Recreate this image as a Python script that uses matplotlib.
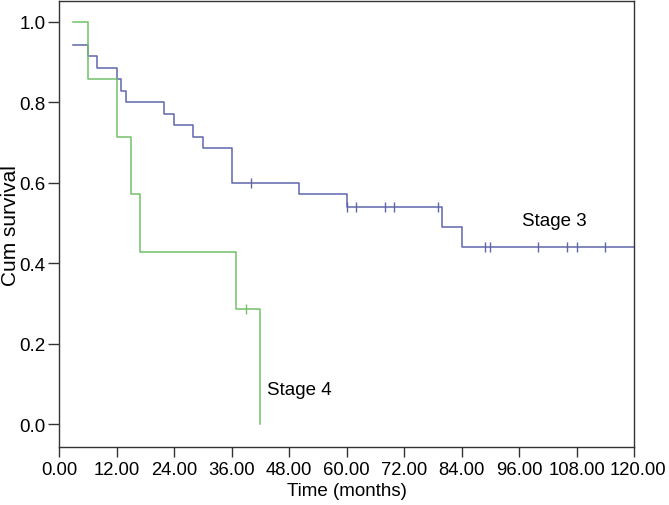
import numpy as np
import matplotlib
matplotlib.use("Agg")
import matplotlib.pyplot as plt
import matplotlib.transforms as mtransforms

plt.rcParams['font.family'] = ['Liberation Sans', 'DejaVu Sans']

# Stage 3 (blue) Kaplan-Meier steps
times3 = [3, 6, 8, 12, 13, 14, 22, 24, 28, 30, 36, 50, 60, 80, 84, 120]
surv3 = [0.943, 0.914, 0.886, 0.857, 0.829, 0.800, 0.771, 0.743, 0.714, 0.686,
         0.600, 0.571, 0.540, 0.490, 0.441, 0.441]
censor3 = [40, 60, 62, 68, 70, 79, 89, 90, 100, 106, 108, 114]

# Stage 4 (green) Kaplan-Meier steps
times4 = [3, 6, 12, 15, 17, 37, 42]
surv4 = [1.0, 0.857, 0.714, 0.571, 0.429, 0.286, 0.0]
censor4 = [39]

xticks = [0, 12, 24, 36, 48, 60, 72, 84, 96, 108, 120]
yticks = [0.0, 0.2, 0.4, 0.6, 0.8, 1.0]

blue = '#5f66ac'
green = '#72c06a'

W, H = 669, 506
fig = plt.figure(figsize=(W/100, H/100), dpi=100)
L, R, T, B = 59, 634, 2, 448
ax = fig.add_axes([L/W, 1-B/H, (R-L)/W, (B-T)/H])


def step_val(times, surv, t):
    i = np.searchsorted(times, t, side='right') - 1
    return surv[max(i, 0)]


ax.step(times3, surv3, where='post', color=blue, lw=1.1)
ax.step(times4, surv4, where='post', color=green, lw=1.1)
ax.plot(censor3, [step_val(times3, surv3, c) for c in censor3], ls='none',
        marker='|', ms=7, mew=1.0, color=blue)
ax.plot(censor4, [step_val(times4, surv4, c) for c in censor4], ls='none',
        marker='|', ms=7, mew=1.0, color=green)

ax.text(96.6, 0.507, 'Stage 3', fontsize=13.5, ha='left', va='center')
ax.text(43.5, 0.085, 'Stage 4', fontsize=13.5, ha='left', va='center')

ax.set_xlim(0, 120)
ax.set_ylim(-0.057, 1.052)
ax.set_xticks(xticks)
ax.set_xticklabels(['%.2f' % v for v in xticks])
ax.set_yticks(yticks)
ax.set_yticklabels(['%.1f' % v for v in yticks])
ax.tick_params(axis='x', direction='out', length=7, width=1, labelsize=13.3,
               color='#333333', pad=3)
ax.tick_params(axis='y', direction='out', length=8, width=1, labelsize=13.5,
               color='#333333', pad=1.5)
for s in ax.spines.values():
    s.set_color('#333333')
    s.set_linewidth(1)

# nudge the last x tick label slightly right as in the reference
labels = ax.get_xticklabels()
offset = mtransforms.ScaledTranslation(4/100, 0, fig.dpi_scale_trans)
labels[-1].set_transform(labels[-1].get_transform() + offset)

fig.text((L+R)/2/W, 1-492/H, 'Time (months)', fontsize=13.5,
         ha='center', va='center')
fig.text(11/W, 1-226/H, 'Cum survival', fontsize=15, rotation=90,
         ha='center', va='center')

fig.savefig('out.png', dpi=100)
